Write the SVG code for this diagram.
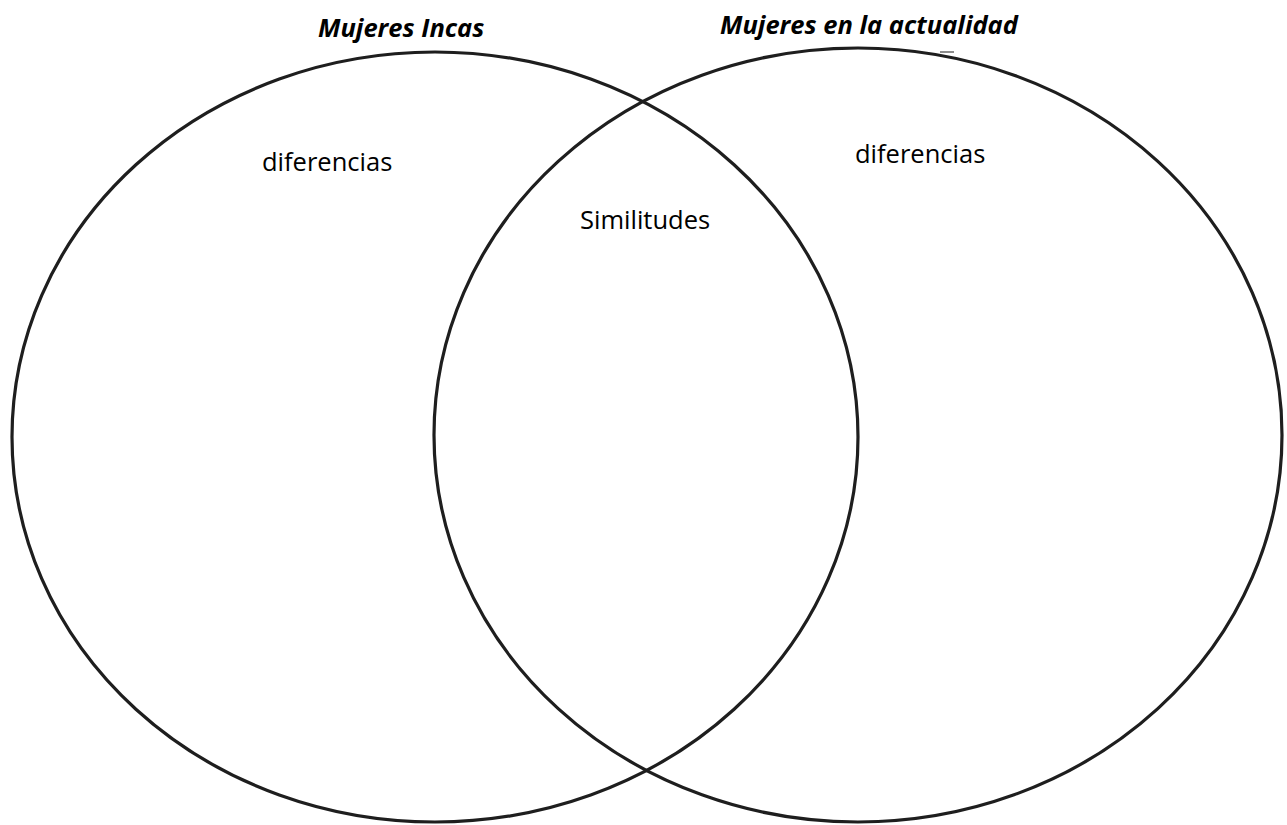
<svg xmlns="http://www.w3.org/2000/svg" width="1287" height="825" viewBox="0 0 1287 825">
<style>
.c{fill:none;stroke:#1e1e1e;stroke-width:3.2}
.t{font-family:"Open Sans","Liberation Sans",sans-serif;font-size:25.5px;font-weight:bold;font-style:italic;fill:#000}
.l{font-family:"Open Sans","Liberation Sans",sans-serif;font-size:25.5px;fill:#000}
</style>
<rect width="1287" height="825" fill="#fff"/>
<g id="circle-incas"><ellipse class="c" cx="435" cy="437" rx="423" ry="385"/></g>
<g id="circle-actualidad"><ellipse class="c" cx="858" cy="435" rx="424" ry="387"/></g>
<g id="connectors"></g>
<g id="title-incas"><text class="t" x="318" y="37">Mujeres Incas</text></g>
<g id="title-actualidad"><text class="t" x="720" y="34">Mujeres en la actualidad</text></g>
<line x1="940" y1="52" x2="954" y2="52" stroke="#666" stroke-width="1.5"/>
<g id="label-dif-left"><text class="l" x="262" y="171">diferencias</text></g>
<g id="label-sim"><text class="l" x="580" y="229">Similitudes</text></g>
<g id="label-dif-right"><text class="l" x="855" y="163">diferencias</text></g>
</svg>
